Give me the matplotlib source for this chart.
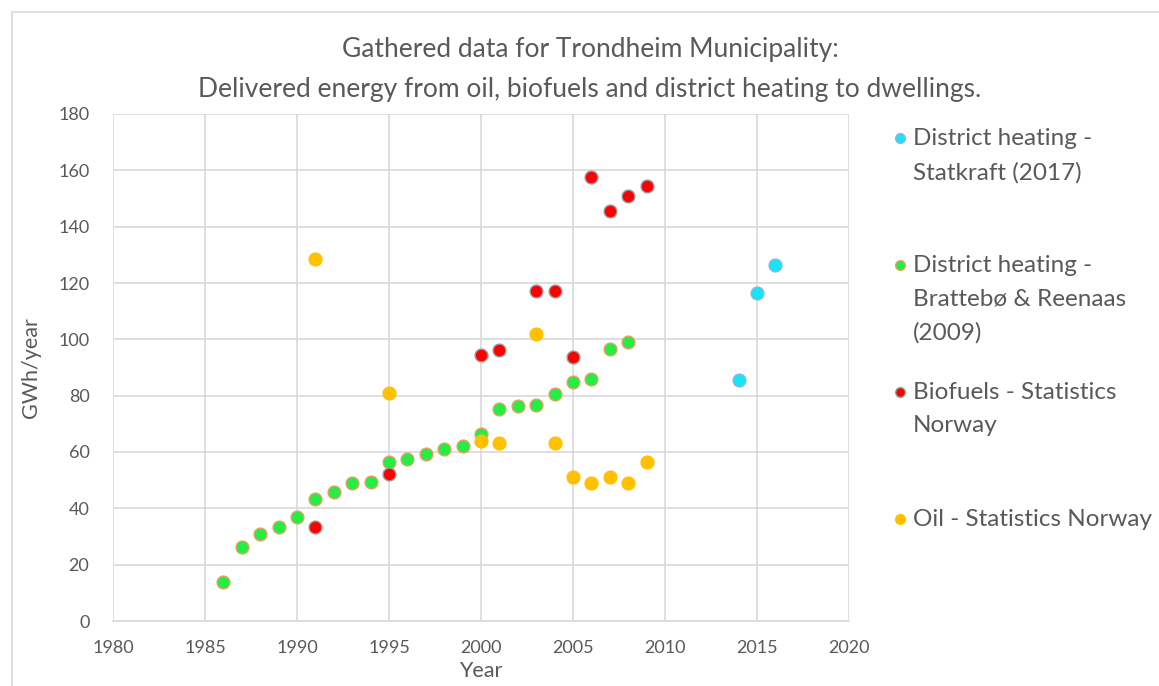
import matplotlib.pyplot as plt
from matplotlib.patches import Rectangle
from matplotlib.lines import Line2D

plt.rcParams['font.family'] = ['Lato', 'DejaVu Sans']

# District heating - Statkraft (2017)
statkraft_years = [2014, 2015, 2016]
statkraft_gwh = [85.5, 116.6, 126.4]

# District heating - Brattebø & Reenaas (2009)
bratt_years = [1986, 1987, 1988, 1989, 1990, 1991, 1992, 1993, 1994, 1995, 1996,
               1997, 1998, 1999, 2000, 2001, 2002, 2003, 2004, 2005, 2006, 2007, 2008]
bratt_gwh = [13.7, 26.2, 30.9, 33.5, 37.0, 43.3, 45.7, 48.9, 49.5, 56.6, 57.6,
             59.4, 61.0, 62.1, 66.4, 75.2, 76.3, 76.7, 80.7, 84.7, 85.9, 96.7, 98.9]

# Biofuels - Statistics Norway
bio_years = [1991, 1995, 2000, 2001, 2003, 2004, 2005, 2006, 2007, 2008, 2009]
bio_gwh = [33.5, 52.3, 94.5, 96.2, 117.1, 117.1, 93.8, 157.6, 145.5, 150.8, 154.3]

# Oil - Statistics Norway
oil_years = [1991, 1995, 2000, 2001, 2003, 2004, 2005, 2006, 2007, 2008, 2009]
oil_gwh = [128.5, 80.8, 64.0, 63.3, 101.9, 63.3, 51.1, 49.0, 51.1, 49.0, 56.4]

series = [
    ("District heating -\nStatkraft (2017)", statkraft_years, statkraft_gwh, '#14E6F5', '#8AB4E8'),
    ("District heating -\nBrattebø & Reenaas\n(2009)", bratt_years, bratt_gwh, '#22EE44', '#E8A060'),
    ("Biofuels - Statistics\nNorway", bio_years, bio_gwh, '#FF0000', '#9A9A9A'),
    ("Oil - Statistics Norway", oil_years, oil_gwh, '#FFC000', '#FFC000'),
]

W, H = 1159, 686
fig = plt.figure(figsize=(W / 100, H / 100), dpi=100)
fig.patches.append(Rectangle((12 / W, -0.1), 1.2, 1 - 12 / H + 0.1, transform=fig.transFigure,
                             fill=False, edgecolor='#D9D9D9', lw=1.2))

ax = fig.add_axes([113 / W, 1 - 621 / H, (849 - 113) / W, (621 - 114) / H])
text_col = '#595959'

for label, xs, ys, fc, ec in series:
    ax.plot(xs, ys, ls='none', marker='o', ms=9.2, mfc=fc, mec=ec, mew=1.0, zorder=3)

ax.set_xlim(1980, 2020)
ax.set_ylim(0, 180)
ax.set_xticks(range(1980, 2021, 5))
ax.set_yticks(range(0, 181, 20))
ax.grid(True, color='#D9D9D9', lw=1.2)
ax.set_axisbelow(True)
for s in ['top', 'right', 'left']:
    ax.spines[s].set_visible(False)
ax.spines['bottom'].set_color('#D9D9D9')
ax.spines['bottom'].set_linewidth(1.2)
ax.tick_params(length=0, labelsize=13, labelcolor=text_col)
ax.tick_params(axis='y', pad=17)
ax.tick_params(axis='x', pad=14)
ax.set_xlabel('Year', fontsize=15.5, color=text_col, labelpad=3)
ax.set_ylabel('GWh/year', fontsize=15.5, color=text_col, labelpad=12)

fig.text(590 / W, 1 - 49 / H, 'Gathered data for Trondheim Municipality:', ha='center', va='center',
         fontsize=19, color=text_col)
fig.text(590 / W, 1 - 89 / H, 'Delivered energy from oil, biofuels and district heating to dwellings.',
         ha='center', va='center', fontsize=19, color=text_col)

# legend on the right, one entry every ~127 px
for i, (label, xs, ys, fc, ec) in enumerate(series):
    y = 1 - (138 + i * 127) / H
    fig.add_artist(Line2D([900 / W], [y], marker='o', ms=7, mfc=fc, mec=ec, mew=1.0,
                          ls='none', transform=fig.transFigure))
    fig.text(913 / W, y + 10 / H, label, ha='left', va='top', fontsize=17.5,
             color=text_col, linespacing=1.72)

fig.savefig('out.png', dpi=100)
